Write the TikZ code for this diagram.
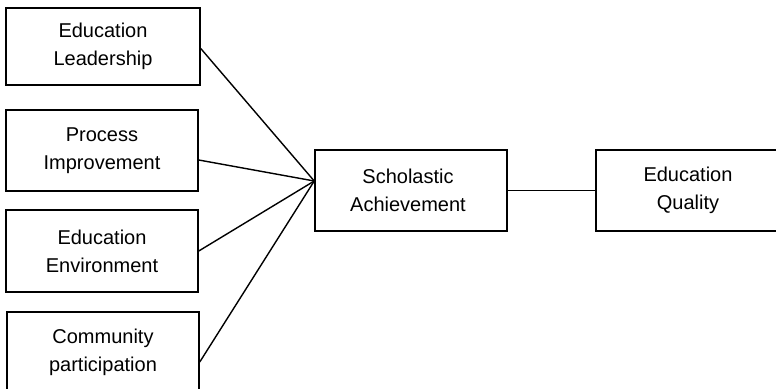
\documentclass[tikz,border=0pt]{standalone}
\usepackage{fontspec}
\setmainfont{Liberation Sans}
\usetikzlibrary{calc}
\begin{document}
\begin{tikzpicture}[x=1bp,y=-1bp,
  box/.style={draw,line width=1.5bp,rectangle,inner sep=0pt,align=center,
    font=\fontsize{20bp}{28bp}\selectfont},
  link/.style={line width=1.4bp}]
\useasboundingbox (0,0) rectangle (776,388);
\clip (0,0) rectangle (776,388);
\node[box,minimum width=194bp,minimum height=77bp] (b1) at (103,46.5) {Education\\Leadership};
\node[box,minimum width=192bp,minimum height=81bp] (b2) at (102,150.5) {Process\\Improvement};
\node[box,minimum width=192bp,minimum height=82bp] (b3) at (102,251) {Education\\Environment};
\node[box,minimum width=192bp,minimum height=80bp] (b4) at (103,352) {Community\\participation};
\node[box,minimum width=192bp,minimum height=81bp] (sa) at (411,190.5) {Scholastic\hspace*{6bp}\\Achievement\hspace*{6bp}};
\node[box,minimum width=184bp,minimum height=81bp] (eq) at (688,190.5) {Education\\Quality};
\coordinate (c) at ($(sa.west)+(0,-9.5)$);
\draw[link] ($(b1.east)+(0,2)$) -- (c);
\draw[link] ($(b2.east)+(0,9.5)$) -- (c);
\draw[link] (b3.east) -- (c);
\draw[link] ($(b4.east)+(0,10)$) -- (c);
\draw[link] (sa.east) -- (eq.west);
\end{tikzpicture}
\end{document}
